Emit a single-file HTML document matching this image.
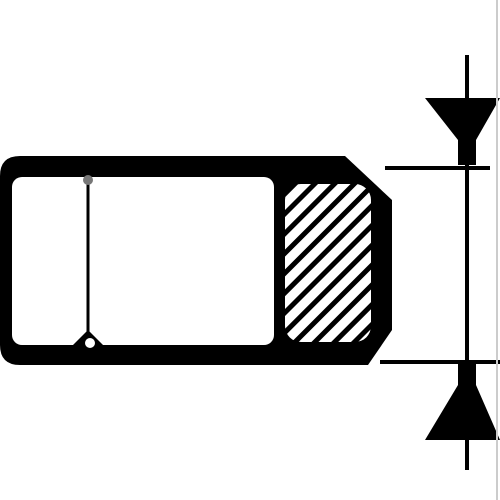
<!DOCTYPE html>
<html><head><meta charset="utf-8"><style>html,body{margin:0;padding:0;background:#fff}svg{display:block}</style></head>
<body>
<svg width="500" height="500" viewBox="0 0 500 500">
<defs>
<pattern id="hatch" patternUnits="userSpaceOnUse" width="14" height="14" patternTransform="rotate(-45)">
<rect width="14" height="14" fill="#fff"/><rect x="0" y="0" width="14" height="5" fill="#000"/>
</pattern>
</defs>
<path d="M20,156 L345,156 L392,200 L392,330 L368,365 L20,365 Q0,365 0,345 L0,176 Q0,156 20,156 Z" fill="#000"/>
<rect x="12" y="177" width="262" height="168" rx="10" fill="#fff"/>
<line x1="88" y1="180" x2="88" y2="342" stroke="#000" stroke-width="3"/>
<circle cx="88" cy="180" r="5" fill="#777"/>
<path d="M72,346 L88,330 L104,346 Z" fill="#000"/>
<circle cx="90" cy="343" r="5" fill="#fff"/>
<rect x="285" y="184" width="86" height="158" rx="16" fill="url(#hatch)"/>
<line x1="385" y1="168" x2="490" y2="168" stroke="#000" stroke-width="4"/>
<line x1="380" y1="362" x2="500" y2="362" stroke="#000" stroke-width="4"/>
<line x1="467" y1="55" x2="467" y2="470" stroke="#000" stroke-width="4"/>
<path d="M425,98 L500,98 L476,140 L476,165 L458,165 L458,140 Z" fill="#000"/>
<path d="M458,362 L476,362 L476,385 L500,440 L425,440 L458,385 Z" fill="#000"/>
<line x1="497" y1="0" x2="497" y2="500" stroke="#ccc" stroke-width="2"/>
</svg>
</body></html>
